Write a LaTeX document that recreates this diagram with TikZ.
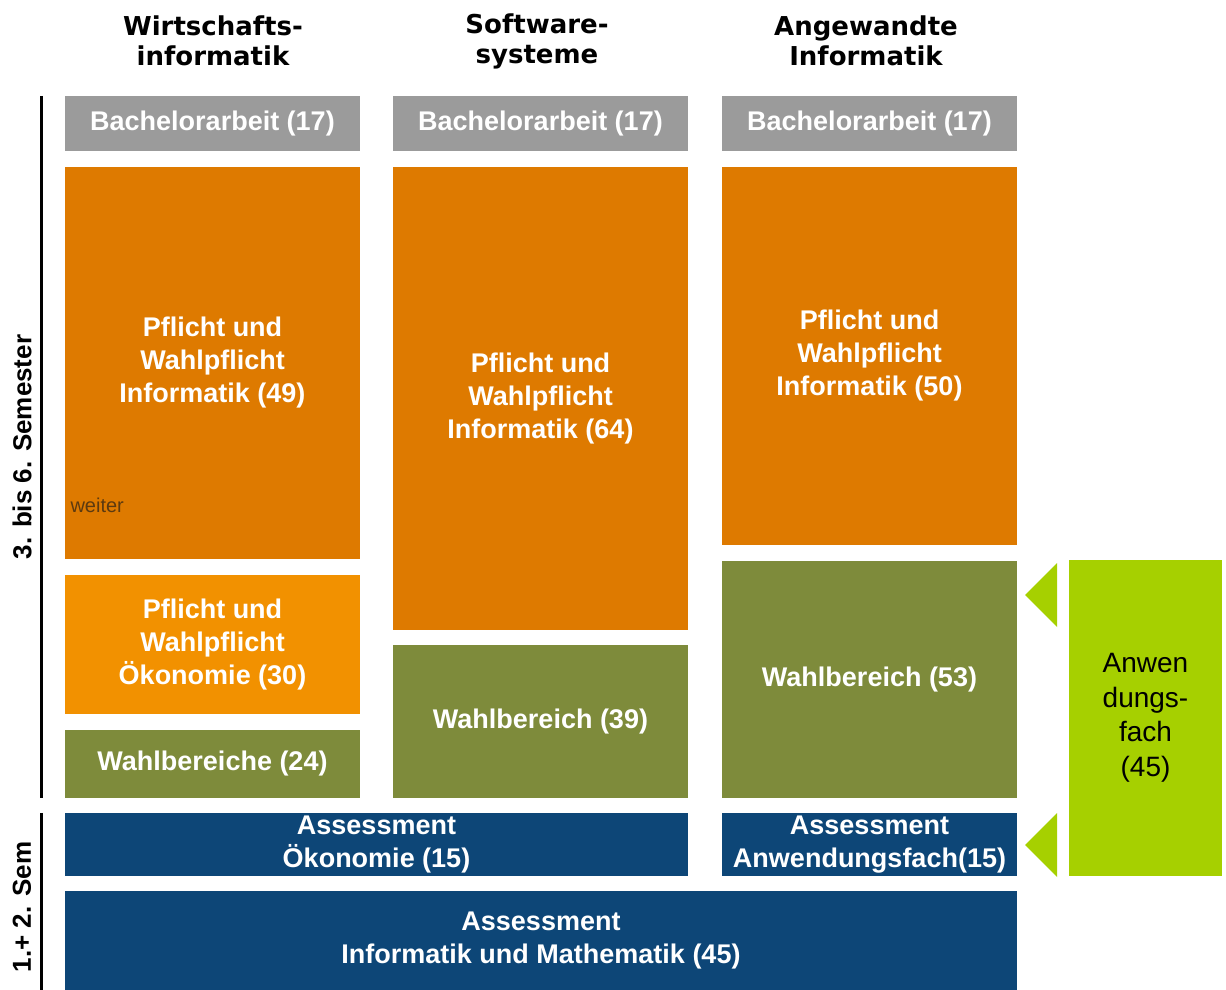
\documentclass[tikz,border=0pt]{standalone}
\usepackage{fontspec}
\setmainfont{Liberation Sans}
\newfontfamily\headfont{DejaVu Sans}

\definecolor{bagray}{HTML}{9B9B9B}
\definecolor{pfldark}{HTML}{DE7A00}
\definecolor{pfllight}{HTML}{F29100}
\definecolor{wahlolive}{HTML}{7E8B3B}
\definecolor{assblue}{HTML}{0D4677}
\definecolor{anwlime}{HTML}{A6D000}
\definecolor{weitertext}{HTML}{5C3A10}

\begin{document}
\begin{tikzpicture}[x=1pt, y=-1pt,
    block/.style={rectangle, inner sep=0pt, text=white, align=center,
        font=\bfseries\fontsize{27}{33}\selectfont},
    head/.style={align=center, font=\headfont\bfseries\fontsize{26}{30}\selectfont},
    semlabel/.style={rotate=90, font=\bfseries\fontsize{26}{30}\selectfont}]
        \useasboundingbox (0,0) rectangle (1226,990);

        % column heads
        \node[head] (hwi) at (213,41) {Wirtschafts-\\informatik};
        \node[head] (hsw) at (537,41) {Software-\\systeme};
        \node[head] (hai) at (866,41) {Angewandte\\Informatik};

        % Wirtschaftsinformatik
        \node[block, fill=bagray, minimum width=295pt, minimum height=55pt] (bach1) at (212.5,123.5) {Bachelorarbeit (17)};
        \node[block, fill=pfldark, minimum width=295pt, minimum height=392pt] (pfl1) at (212.5,363) {Pflicht und\\Wahlpflicht\\Informatik (49)};
        \node[block, fill=pfllight, minimum width=295pt, minimum height=139pt] (oek1) at (212.5,644.5) {Pflicht und\\Wahlpflicht\\Ökonomie (30)};
        \node[block, fill=wahlolive, minimum width=295pt, minimum height=68pt] (wahl1) at (212.5,764) {Wahlbereiche (24)};
        \node[anchor=west, text=weitertext, font=\fontsize{20}{22}\selectfont] (weiter) at (67,505) {weiter};

        % Softwaresysteme
        \node[block, fill=bagray, minimum width=295pt, minimum height=55pt] (bach2) at (540.5,123.5) {Bachelorarbeit (17)};
        \node[block, fill=pfldark, minimum width=295pt, minimum height=463pt] (pfl2) at (540.5,398.5) {Pflicht und\\Wahlpflicht\\Informatik (64)};
        \node[block, fill=wahlolive, minimum width=295pt, minimum height=153pt] (wahl2) at (540.5,721.5) {Wahlbereich (39)};

        % Angewandte Informatik
        \node[block, fill=bagray, minimum width=295pt, minimum height=55pt] (bach3) at (869.5,123.5) {Bachelorarbeit (17)};
        \node[block, fill=pfldark, minimum width=295pt, minimum height=378pt] (pfl3) at (869.5,356) {Pflicht und\\Wahlpflicht\\Informatik (50)};
        \node[block, fill=wahlolive, minimum width=295pt, minimum height=237pt] (wahl3) at (869.5,679.5) {Wahlbereich (53)};

        % assessment
        \node[block, fill=assblue, minimum width=623pt, minimum height=63pt] (assoek) at (376.5,844.5) {Assessment\\Ökonomie (15)};
        \node[block, fill=assblue, minimum width=295pt, minimum height=63pt] (assanw) at (869.5,844.5) {Assessment\\Anwendungsfach(15)};
        \node[block, fill=assblue, minimum width=952pt, minimum height=99pt] (assinf) at (541,940.5) {Assessment\\Informatik und Mathematik (45)};

        % Anwendungsfach
        \node[block, fill=anwlime, text=black, font=\fontsize{28}{34.5}\selectfont, minimum width=153pt, minimum height=316pt] (anw) at (1145.5,718) {Anwen\\dungs-\\fach\\(45)};
        \fill[anwlime] (1025,595) -- (1057,563) -- (1057,627) -- cycle;
        \fill[anwlime] (1025,845) -- (1057,813) -- (1057,877) -- cycle;

        % semester bars
        \draw[line width=3pt] (41,0 |- bach1.north) -- (41,0 |- wahl1.south);
        \draw[line width=3pt] (41,0 |- assoek.north) -- (41,0 |- assinf.south);
        \node[semlabel] (sem36) at (22,447) {3. bis 6. Semester};
        \node[semlabel] (sem12) at (22,907) {1.+ 2. Sem};
    \end{tikzpicture}
\end{document}
